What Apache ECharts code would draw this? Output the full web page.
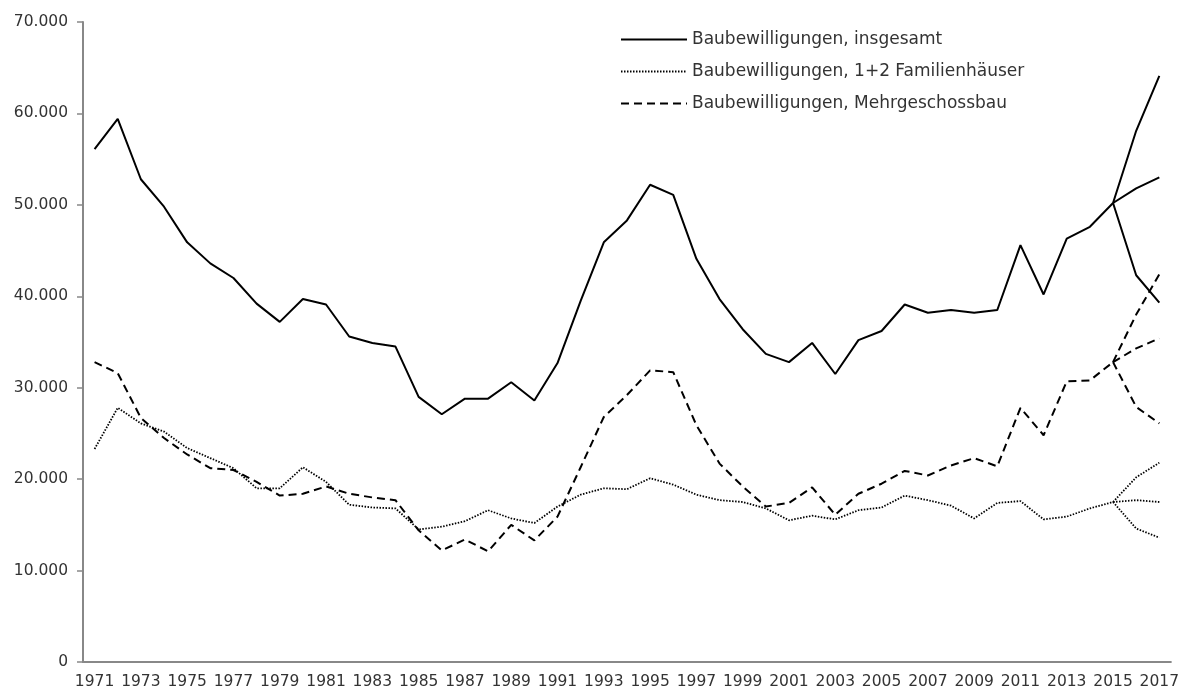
<!DOCTYPE html>
<html>
<head>
<meta charset="utf-8">
<script src="https://cdn.jsdelivr.net/npm/echarts@6/dist/echarts.min.js"></script>
<style>
  html, body { margin: 0; padding: 0; background: #fff; }
  #chart { width: 1182px; height: 695px; }
</style>
</head>
<body>
<div id="chart"></div>
<script>
// Jahre 1971..2017
const years = [];
for (let y = 1971; y <= 2017; y++) years.push(String(y));

// Werte 1971..2015
const insgesamt = [56100, 59400, 52800, 49800, 45900, 43600, 42000, 39200, 37200, 39700,
  39100, 35600, 34900, 34500, 29000, 27100, 28800, 28800, 30600, 28600,
  32700, 39500, 45900, 48300, 52200, 51100, 44100, 39700, 36400, 33700,
  32800, 34900, 31500, 35200, 36200, 39100, 38200, 38500, 38200, 38500,
  45600, 40200, 46300, 47600, 50200];
const familien = [23300, 27800, 26100, 25200, 23400, 22300, 21200, 19000, 19000, 21300,
  19700, 17200, 16900, 16800, 14500, 14800, 15400, 16600, 15700, 15200,
  17000, 18300, 19000, 18900, 20100, 19400, 18300, 17700, 17500, 16800,
  15500, 16000, 15600, 16600, 16900, 18200, 17700, 17100, 15700, 17400,
  17600, 15600, 15900, 16800, 17500];
const mehrgeschoss = [32800, 31600, 26700, 24500, 22700, 21200, 21000, 19700, 18200, 18400,
  19200, 18400, 18000, 17700, 14400, 12200, 13400, 12100, 15000, 13300,
  15900, 21300, 26800, 29200, 31900, 31700, 25900, 21700, 19200, 17000,
  17400, 19100, 16100, 18400, 19500, 20900, 20400, 21500, 22300, 21400,
  27800, 24800, 30700, 30800, 32800];

// Szenarien 2016, 2017 (hoch, mittel, tief)
const insgesamtSzen = [[58100, 64100], [51800, 53000], [42300, 39300]];
const familienSzen = [[20200, 21800], [17700, 17500], [14600, 13600]];
const mehrgeschossSzen = [[38000, 42400], [34300, 35400], [27900, 26100]];

const names = ['Baubewilligungen, insgesamt', 'Baubewilligungen, 1+2 Familienhäuser', 'Baubewilligungen, Mehrgeschossbau'];
const styles = [
  { type: 'solid', width: 2 },
  { type: [1.5, 1.5], width: 1.8 },
  { type: [8, 5], width: 2 }
];

function branch(hist, szen) {
  const d = years.map(() => null);
  d[hist.length - 1] = hist[hist.length - 1];
  d[hist.length] = szen[0];
  d[hist.length + 1] = szen[1];
  return d;
}

const series = [];
[[insgesamt, insgesamtSzen], [familien, familienSzen], [mehrgeschoss, mehrgeschossSzen]].forEach(([hist, szen], i) => {
  series.push({
    name: names[i], type: 'line', data: hist, symbol: 'none',
    lineStyle: { color: '#000', type: styles[i].type, width: styles[i].width },
    itemStyle: { color: '#000' }
  });
  szen.forEach((s, k) => {
    series.push({
      name: names[i] + ' ' + k, type: 'line', data: branch(hist, s), symbol: 'none',
      lineStyle: { color: '#000', type: styles[i].type, width: styles[i].width },
      itemStyle: { color: '#000' }
    });
  });
});

const chart = echarts.init(document.getElementById('chart'));
chart.setOption({
  animation: false,
  textStyle: { fontFamily: 'DejaVu Sans' },
  grid: { left: 83, right: 6, top: 22, bottom: 33 },
  legend: {
    data: names,
    orient: 'vertical',
    left: 615, top: 26,
    itemWidth: 66, itemHeight: 14, itemGap: 15,
    itemStyle: { opacity: 0 },
    textStyle: { fontSize: 17, color: '#333', fontFamily: 'DejaVu Sans' }
  },
  xAxis: {
    type: 'category', data: years, boundaryGap: true,
    axisLine: { lineStyle: { color: '#888', width: 2 } },
    axisTick: { interval: 0, length: 6, lineStyle: { color: '#888', width: 1.5 } },
    axisLabel: { interval: 1, color: '#333', fontSize: 15.5, margin: 12 }
  },
  yAxis: {
    type: 'value', min: 0, max: 70000, interval: 10000,
    splitLine: { show: false },
    axisLine: { show: true, lineStyle: { color: '#888', width: 2 } },
    axisTick: { show: true, length: 6, lineStyle: { color: '#888', width: 1.5 } },
    axisLabel: {
      color: '#333', fontSize: 15.5, margin: 15,
      formatter: v => v === 0 ? '0' : v.toLocaleString('de-DE')
    }
  },
  series: series
});
</script>
</body>
</html>
